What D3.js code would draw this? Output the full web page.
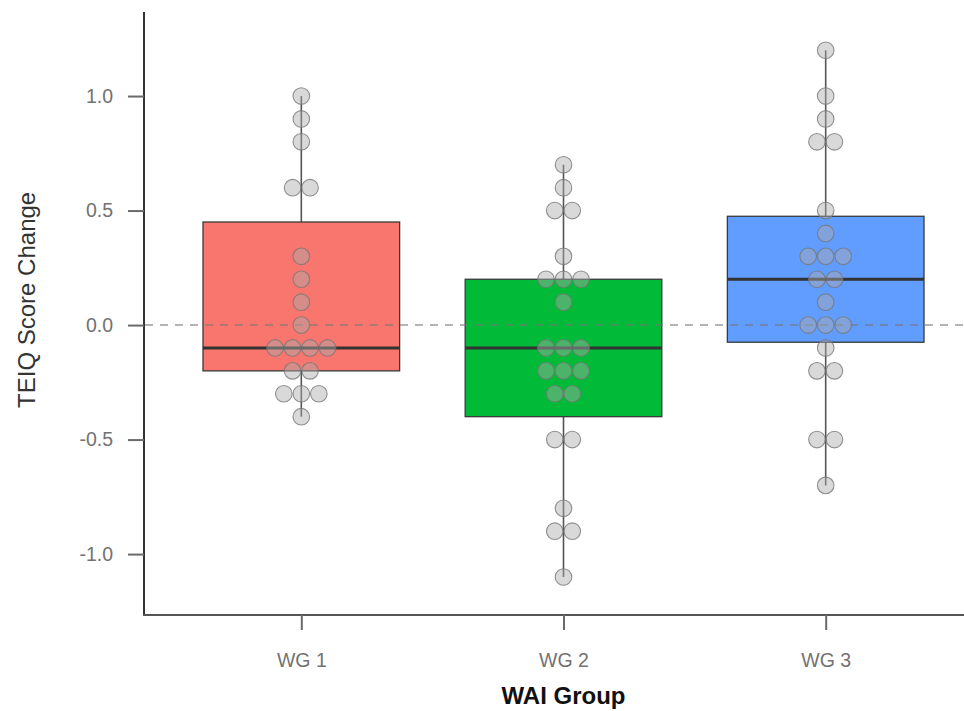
<!DOCTYPE html>
<html>
<head>
<meta charset="utf-8">
<script src="https://cdn.jsdelivr.net/npm/d3@7"></script>
<style>
  html, body { margin: 0; padding: 0; background: #fff; }
  svg { display: block; }
</style>
</head>
<body>
<svg id="chart" width="964" height="711"></svg>
<script>
// TEIQ score change per WAI group: box plot with centred dot stacks
const categories = ["WG 1", "WG 2", "WG 3"];
const wg1Values = [1.0, 0.9, 0.8, 0.6, 0.6, 0.3, 0.2, 0.1, 0.0,
  -0.1, -0.1, -0.1, -0.1, -0.2, -0.2, -0.3, -0.3, -0.3, -0.4];
const wg2Values = [0.7, 0.6, 0.5, 0.5, 0.3, 0.2, 0.2, 0.2, 0.1,
  -0.1, -0.1, -0.1, -0.2, -0.2, -0.2, -0.3, -0.3, -0.5, -0.5, -0.8, -0.9, -0.9, -1.1];
const wg3Values = [1.2, 1.0, 0.9, 0.8, 0.8, 0.5, 0.4, 0.3, 0.3, 0.3, 0.2, 0.2, 0.1,
  0.0, 0.0, 0.0, -0.1, -0.2, -0.2, -0.5, -0.5, -0.7];
const groupFills = ["#F8766D", "#00BA38", "#619CFF"];
const yTickValues = [-1.0, -0.5, 0.0, 0.5, 1.0];
const xTitle = "WAI Group";
const yTitle = "TEIQ Score Change";

const seriesValues = [wg1Values, wg2Values, wg3Values];

const svg = d3.select("#chart");
const W = 964, H = 711;
const font = "'Liberation Sans', Arial, sans-serif";

const x = d3.scalePoint().domain(categories).range([144, 983]).padding(0.6);
const y = d3.scaleLinear().domain([-1.266, 1.367]).range([615, 12]);
const step = x.step();
const boxW = step * 0.75;

// Axes
const yAxis = d3.axisLeft(y).tickValues(yTickValues).tickFormat(d => d.toFixed(1))
  .tickSize(16).tickPadding(15);
const gy = svg.append("g").attr("transform", "translate(144,0)").call(yAxis);
gy.select(".domain").attr("stroke", "#333").attr("stroke-width", 2)
  .attr("d", "M0," + y.range()[1] + "V" + y.range()[0]);
gy.selectAll(".tick line").attr("stroke", "#6a6a6a").attr("stroke-width", 2);
gy.selectAll(".tick text").attr("fill", "#727272")
  .style("font-family", font).style("font-size", "19.5px");

const xAxis = d3.axisBottom(x).tickSize(15).tickPadding(23);
const gx = svg.append("g").attr("transform", "translate(0,615)").call(xAxis);
gx.select(".domain").attr("stroke", "#555").attr("stroke-width", 2)
  .attr("d", "M143,0H" + W);
gx.selectAll(".tick line").attr("stroke", "#6a6a6a").attr("stroke-width", 2);
gx.selectAll(".tick text").attr("fill", "#727272")
  .style("font-family", font).style("font-size", "19.5px");

// Axis titles
svg.append("text")
  .attr("x", x("WG 2")).attr("y", 704)
  .attr("text-anchor", "middle")
  .style("font-family", font)
  .style("font-size", "24px").style("font-weight", "bold")
  .attr("fill", "#111")
  .text(xTitle);

svg.append("text")
  .attr("transform", "translate(35," + y(0.11) + ") rotate(-90)")
  .attr("text-anchor", "middle")
  .style("font-family", font)
  .style("font-size", "24px")
  .attr("fill", "#333")
  .text(yTitle);

// Box plot statistics (R type-7 quantiles, 1.5 IQR whiskers)
const stats = seriesValues.map((vals, i) => {
  const s = vals.slice().sort(d3.ascending);
  const q1 = d3.quantile(s, 0.25), med = d3.quantile(s, 0.5), q3 = d3.quantile(s, 0.75);
  const iqr = q3 - q1;
  const lo = d3.min(s.filter(v => v >= q1 - 1.5 * iqr));
  const hi = d3.max(s.filter(v => v <= q3 + 1.5 * iqr));
  return { cat: categories[i], fill: groupFills[i], q1, med, q3, lo, hi, vals: s };
});

const boxes = svg.append("g").selectAll("g").data(stats).join("g");

boxes.append("line")
  .attr("x1", d => x(d.cat)).attr("x2", d => x(d.cat))
  .attr("y1", d => y(d.hi)).attr("y2", d => y(d.lo))
  .attr("stroke", "#555").attr("stroke-width", 1.6);

boxes.append("rect")
  .attr("x", d => x(d.cat) - boxW / 2).attr("width", boxW)
  .attr("y", d => y(d.q3)).attr("height", d => y(d.q1) - y(d.q3))
  .attr("fill", d => d.fill)
  .attr("stroke", "#3a3a3a").attr("stroke-width", 1.3);

boxes.append("line")
  .attr("x1", d => x(d.cat) - boxW / 2).attr("x2", d => x(d.cat) + boxW / 2)
  .attr("y1", d => y(d.med)).attr("y2", d => y(d.med))
  .attr("stroke", "#333").attr("stroke-width", 3);

// Reference line at zero
svg.append("line")
  .attr("x1", 145).attr("x2", W)
  .attr("y1", y(0)).attr("y2", y(0))
  .attr("stroke", "#777").attr("stroke-opacity", 0.55)
  .attr("stroke-width", 2).attr("stroke-dasharray", "8,7");

// Dot stacks, centred on each group's position
const dotR = 8.3, dotStep = 17.5;
const dots = [];
stats.forEach(d => {
  const bins = d3.group(d.vals, v => Math.round(v * 10));
  bins.forEach(arr => {
    const n = arr.length;
    arr.forEach((v, k) => dots.push({ cat: d.cat, v, off: (k - (n - 1) / 2) * dotStep }));
  });
});

svg.append("g").selectAll("circle").data(dots).join("circle")
  .attr("cx", d => x(d.cat) + d.off)
  .attr("cy", d => y(d.v))
  .attr("r", dotR)
  .attr("fill", "#aaaaaa").attr("fill-opacity", 0.45)
  .attr("stroke", "#777").attr("stroke-opacity", 0.8).attr("stroke-width", 1.1);
</script>
</body>
</html>
